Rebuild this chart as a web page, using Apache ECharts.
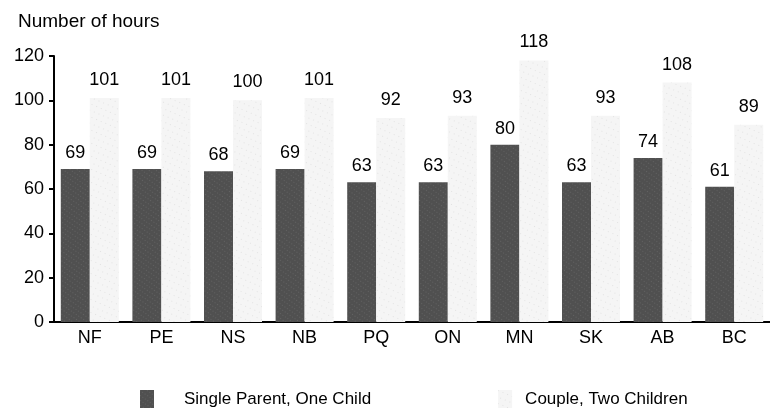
<!DOCTYPE html>
<html>
<head>
<meta charset="utf-8">
<script src="https://cdn.jsdelivr.net/npm/echarts@6/dist/echarts.min.js"></script>
<style>
html,body{margin:0;padding:0;background:#fff;}
#c{width:770px;height:414px;}
</style>
</head>
<body>
<div id="c"></div>
<script>
var categories = ['NF','PE','NS','NB','PQ','ON','MN','SK','AB','BC'];
var singleParent = [69,69,68,69,63,63,80,63,74,61];
var couple = [101,101,100,101,92,93,118,93,108,89];
var yTicks = [0,20,40,60,80,100,120];
var seriesNames = ['Single Parent, One Child','Couple, Two Children'];
var titleText = 'Number of hours';

var FONT = '"Liberation Sans", Arial, Helvetica, sans-serif';
var chart = echarts.init(document.getElementById('c'), null, {renderer:'canvas'});
chart.setOption({
  backgroundColor:'#ffffff',
  animation:false,
  aria:{enabled:true, decal:{show:true}},
  title:{
    text:titleText, left:13, top:7,
    textStyle:{fontFamily:FONT, fontSize:19, fontWeight:'normal', color:'#000'}
  },
  legend:{
    bottom:1, left:135,
    icon:'rect',
    itemWidth:14, itemHeight:18, itemGap:127,
    textStyle:{fontFamily:FONT, fontSize:17, color:'#000'},
    data:[
      {name:seriesNames[0], textStyle:{padding:[0,0,0,25]}},
      {name:seriesNames[1], textStyle:{padding:[0,0,0,8]}}
    ]
  },
  grid:{left:54, right:0, top:56, bottom:92},
  xAxis:{
    type:'category', data:categories,
    axisLine:{lineStyle:{color:'#000', width:2}},
    axisTick:{show:false},
    axisLabel:{fontFamily:FONT, fontSize:18, color:'#000', margin:7}
  },
  yAxis:{
    type:'value', min:yTicks[0], max:yTicks[yTicks.length-1], interval:yTicks[1]-yTicks[0],
    axisLine:{show:true, lineStyle:{color:'#000', width:2}},
    axisTick:{show:true, length:5, lineStyle:{color:'#000', width:2}},
    splitLine:{show:false},
    axisLabel:{fontFamily:FONT, fontSize:18, color:'#000', margin:10}
  },
  series:[
    {
      name:seriesNames[0], type:'bar', data:singleParent,
      barWidth:29, barGap:'0%',
      itemStyle:{
        color:'#505050',
        decal:{symbol:'rect', symbolSize:0.7, color:'rgba(255,255,255,0.3)', dashArrayX:[1,2], dashArrayY:[1,3], rotation:0.6}
      },
      label:{show:true, position:'top', distance:7, fontFamily:FONT, fontSize:18, color:'#000'}
    },
    {
      name:seriesNames[1], type:'bar', data:couple,
      barWidth:29,
      itemStyle:{
        color:'#f5f5f5',
        decal:{symbol:'rect', symbolSize:0.6, color:'rgba(0,0,0,0.25)', dashArrayX:[1,4], dashArrayY:[1,5], rotation:0.4}
      },
      label:{show:true, position:'top', distance:9, fontFamily:FONT, fontSize:18, color:'#000'}
    }
  ]
});
</script>
</body>
</html>
